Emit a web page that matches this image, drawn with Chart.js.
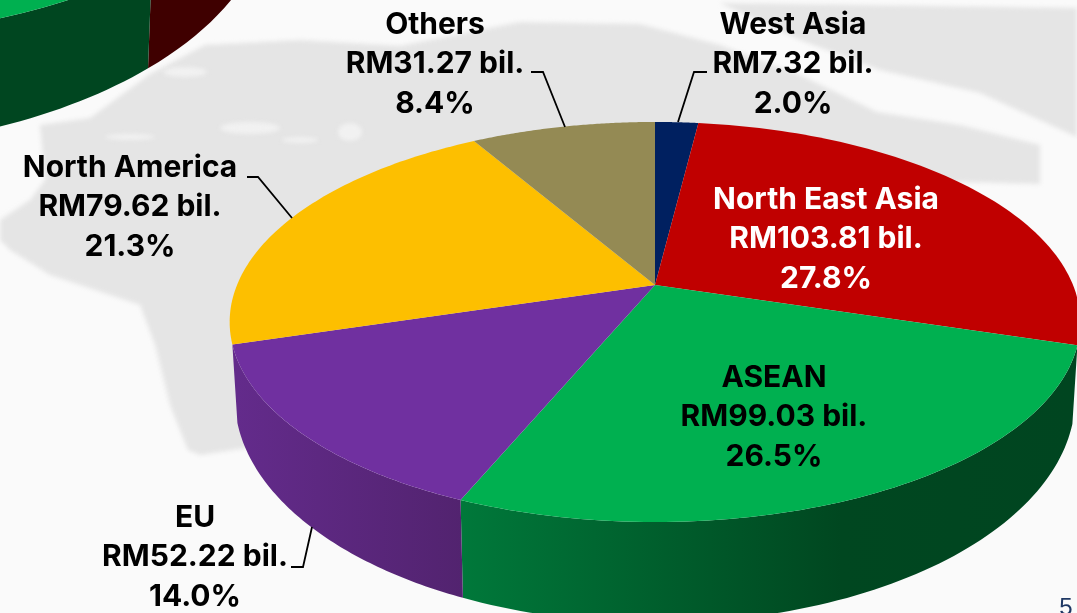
<!DOCTYPE html>
<html>
<head>
<meta charset="utf-8">
<title>Export destinations</title>
<script src="https://cdn.jsdelivr.net/npm/chart.js@4"></script>
<style>
  html, body { margin: 0; padding: 0; background: #fafafa; overflow: hidden; }
  canvas { display: block; }
</style>
</head>
<body>
<canvas id="myChart" width="1077" height="613"></canvas>
<script>
const categories = ['West Asia', 'North East Asia', 'ASEAN', 'EU', 'North America', 'Others'];
const exportValues = [7.32, 103.81, 99.03, 52.22, 79.62, 31.27];
const exportShares = ['2.0%', '27.8%', '26.5%', '14.0%', '21.3%', '8.4%'];
// the other pie is cut off by the slide edge, only the red/green split can be read
const croppedPieValues = [2, 36.8, 27, 13, 13, 8.2];

const topColors = ['#002060', '#c00000', '#00b050', '#7030a0', '#fdbf00', '#948a54'];
const wallColors = [null, null, ['#00783a', '#004720', '#004520'], ['#632b8b', '#52236f'], null, null];
const croppedWallColors = [null, '#3f0000', '#004620', '#004620', null, null];

const labelCenters = [[793, 34], [826, 209], [774, 387], [195, 527], [130, 177], [435, 34]];
const labelColors = ['#000', '#fff', '#000', '#000', '#000', '#000'];
const leaderLines = [
    [[707, 72], [694, 72], [678, 122]],
    null,
    null,
    [[291, 567], [303, 567], [312, 527]],
    [[247, 177], [258, 177], [292, 218]],
    [[531, 72], [543, 72], [565, 127]]
];

// perspective view of the disc: apex, half axes and foreshortening
const mainTop = { x: 655, y: 285, a: 418, b: 193.2, k: 0.185 };
const mainBottom = { x: 655, y: 356, a: 413, b: 217.4, k: 0.185 };
const croppedTop = { x: -200, y: -226, a: 467, b: 216, k: 0.185 };
const croppedBottom = { x: -200, y: -146, a: 462, b: 241.5, k: 0.185 };

function rimPoint(disc, angle) {
    const t = angle + Math.PI / 2;
    const u = Math.sin(t);
    const w = -Math.cos(t);
    const den = 1 - disc.k * w;
    return [disc.x + disc.a * u / den, disc.y + disc.b * w / den];
}

function rimPoints(disc, start, end) {
    const pts = [];
    for (let i = 0; i <= 80; i++) {
        pts.push(rimPoint(disc, start + (end - start) * i / 80));
    }
    return pts;
}

function fillShape(ctx, pts, fill) {
    ctx.beginPath();
    pts.forEach((p, i) => i ? ctx.lineTo(p[0], p[1]) : ctx.moveTo(p[0], p[1]));
    ctx.closePath();
    ctx.fillStyle = fill;
    ctx.fill();
}

function wallFill(ctx, colors, pts) {
    if (typeof colors === 'string') return colors;
    const xs = pts.map(p => p[0]);
    const grad = ctx.createLinearGradient(Math.min(...xs), 0, Math.max(...xs), 0);
    colors.forEach((c, i) => {
        grad.addColorStop(colors.length === 3 ? [0, 0.62, 1][i] : i, c);
    });
    return grad;
}

function drawPie(chart, datasetIndex, top, bottom, walls) {
    const ctx = chart.ctx;
    const arcs = chart.getDatasetMeta(datasetIndex).data;
    arcs.forEach((arc, i) => {
        if (!walls[i]) return;
        const upper = rimPoints(top, arc.startAngle, arc.endAngle);
        const lower = rimPoints(bottom, arc.startAngle, arc.endAngle).reverse();
        fillShape(ctx, upper.concat(lower), wallFill(ctx, walls[i], lower));
    });
    arcs.forEach((arc, i) => {
        const rim = rimPoints(top, arc.startAngle, arc.endAngle);
        fillShape(ctx, [[top.x, top.y]].concat(rim), topColors[i]);
    });
}

const mapShapes = [
    [[205, 45], [300, 40], [400, 46], [520, 22], [640, 24], [720, 45], [800, 75], [877, 112], [960, 125], [1040, 145], [1040, 184], [960, 182], [880, 205], [655, 300], [260, 400], [246, 448], [200, 455], [188, 450], [170, 405], [155, 345], [140, 305], [50, 275], [10, 250], [0, 240], [0, 220], [30, 200], [45, 180], [40, 125], [90, 118], [150, 74]],
    [[720, 3], [1077, 8], [1077, 137], [980, 93], [880, 70], [800, 40]]
];
const mapGaps = [[185, 72, 22, 5], [250, 128, 30, 6], [130, 137, 25, 3], [350, 132, 12, 9], [300, 140, 18, 3]];

const slideBackground = {
    id: 'slideBackground',
    beforeDraw(chart) {
        const ctx = chart.ctx;
        ctx.save();
        ctx.filter = 'blur(2px)';
        mapShapes.forEach(shape => fillShape(ctx, shape, '#e5e5e5'));
        ctx.fillStyle = '#f1f1f1';
        mapGaps.forEach(g => {
            ctx.beginPath();
            ctx.ellipse(g[0], g[1], g[2], g[3], 0, 0, Math.PI * 2);
            ctx.fill();
        });
        ctx.restore();
    }
};

const perspectivePie = {
    id: 'perspectivePie',
    beforeDatasetDraw() {
        return false;
    },
    afterDatasetsDraw(chart) {
        const ctx = chart.ctx;
        drawPie(chart, 1, croppedTop, croppedBottom, croppedWallColors);
        drawPie(chart, 0, mainTop, mainBottom, wallColors);

        ctx.save();
        ctx.textAlign = 'center';
        ctx.textBaseline = 'alphabetic';
        ctx.font = 'bold 30px Inter';
        categories.forEach((name, i) => {
            const lines = [name, 'RM' + exportValues[i].toFixed(2) + ' bil.', exportShares[i]];
            ctx.fillStyle = labelColors[i];
            lines.forEach((line, n) => {
                ctx.fillText(line, labelCenters[i][0], labelCenters[i][1] + n * 39.3);
            });
        });
        ctx.strokeStyle = '#000';
        ctx.lineWidth = 1.8;
        leaderLines.forEach(line => {
            if (!line) return;
            ctx.beginPath();
            line.forEach((p, n) => n ? ctx.lineTo(p[0], p[1]) : ctx.moveTo(p[0], p[1]));
            ctx.stroke();
        });
        // slide number
        ctx.fillStyle = '#1f3864';
        ctx.font = '24px "Liberation Sans"';
        ctx.fillText('5', 1066, 615);
        ctx.restore();
    }
};

const ctx = document.getElementById('myChart').getContext('2d');
const myChart = new Chart(ctx, {
    type: 'pie',
    data: {
        labels: categories,
        datasets: [
            { label: 'Exports', data: exportValues, backgroundColor: topColors, borderWidth: 0 },
            { label: 'Cropped pie', data: croppedPieValues, backgroundColor: topColors, borderWidth: 0 }
        ]
    },
    options: {
        responsive: false,
        animation: false,
        plugins: {
            legend: { display: false },
            tooltip: { enabled: false }
        }
    },
    plugins: [slideBackground, perspectivePie]
});
</script>
</body>
</html>
